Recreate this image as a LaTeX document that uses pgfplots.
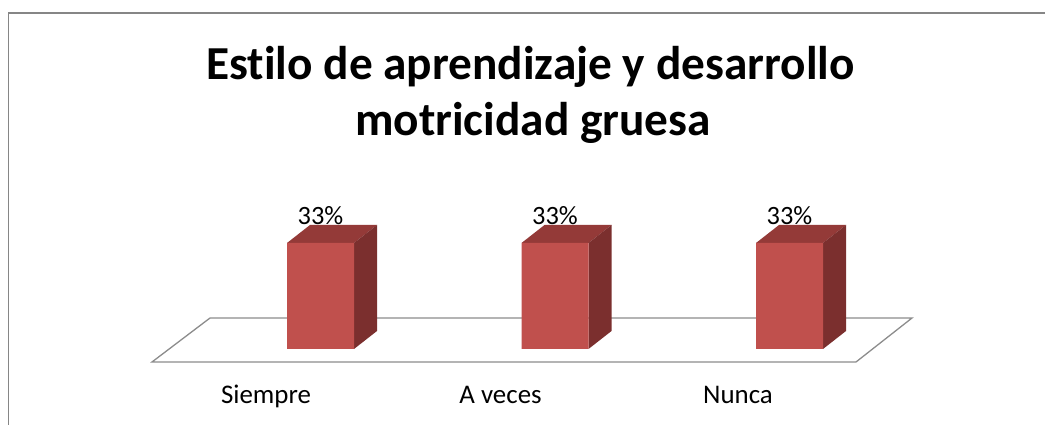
\documentclass[border=0pt]{standalone}
\usepackage{pgfplots}
\pgfplotsset{compat=1.18}
\usepackage{fontspec}
\setmainfont{Carlito}[Ligatures={NoCommon}]
\definecolor{barfront}{HTML}{C0504D}
\definecolor{bartop}{HTML}{943A38}
\definecolor{barside}{HTML}{7B2F2E}
\definecolor{floorline}{HTML}{8C8C8C}
\definecolor{frameline}{HTML}{868686}
\begin{document}
\begin{tikzpicture}
\begin{axis}[
  width=1045bp, height=425bp, scale only axis,
  xmin=-1.36674, xmax=3.08955, ymin=-23.661, ymax=108.651,
  axis line style={draw=none}, major tick length=0pt,
  ytick=\empty,
  xtick={-0.2324,0.7676,1.7804},
  xticklabels={Siempre,A veces,Nunca},
  xticklabel style={anchor=base, yshift=21bp, font=\fontsize{27}{32}\selectfont},
  clip=false,
]
% frame
\addplot[draw=frameline, line width=1.4bp] coordinates {(-1.33049,-23.661) (-1.33049,104.604) (3.08955,104.604)};
% floor
\addplot[draw=floorline, line width=1.3bp, fill=white] coordinates {(-0.7186,-4.047) (2.2836,-4.047) (2.5224,9.651) (-0.4712,9.651)} -- cycle;
% bar tops and sides
\addplot[fill=bartop, draw=none] coordinates {(-0.14286,33) (0.14286,33) (0.24094,38.604) (-0.04478,38.604)} -- cycle;
\addplot[fill=barside, draw=none] coordinates {(0.14286,0) (0.24094,5.604) (0.24094,38.604) (0.14286,33)} -- cycle;
\addplot[fill=bartop, draw=none] coordinates {(0.85714,33) (1.14286,33) (1.24094,38.604) (0.95522,38.604)} -- cycle;
\addplot[fill=barside, draw=none] coordinates {(1.14286,0) (1.24094,5.604) (1.24094,38.604) (1.14286,33)} -- cycle;
\addplot[fill=bartop, draw=none] coordinates {(1.85714,33) (2.14286,33) (2.24094,38.604) (1.95522,38.604)} -- cycle;
\addplot[fill=barside, draw=none] coordinates {(2.14286,0) (2.24094,5.604) (2.24094,38.604) (2.14286,33)} -- cycle;
% bar fronts with values
\addplot[ybar, bar width=67bp, fill=barfront, draw=none,
  nodes near coords={\pgfmathprintnumber[assume math mode=true]{\pgfplotspointmeta}\%},
  every node near coord/.append style={anchor=base, yshift=18.5bp, inner sep=0pt, text=black, font=\fontsize{26.5}{31}\selectfont}]
  coordinates {(0,33) (1,33) (2,33)};
% title
\node[anchor=base, font=\bfseries\fontsize{47.5}{57}\selectfont, inner sep=0pt] at (axis cs:0.8955,83.746) {Estilo de aprendizaje y desarrollo};
\node[anchor=base, font=\bfseries\fontsize{47.5}{57}\selectfont, inner sep=0pt] at (axis cs:0.9062,66.312) {motricidad gruesa};
\end{axis}
\pgfresetboundingbox
\path (current axis.south west) rectangle (current axis.north east);
\end{tikzpicture}
\end{document}
